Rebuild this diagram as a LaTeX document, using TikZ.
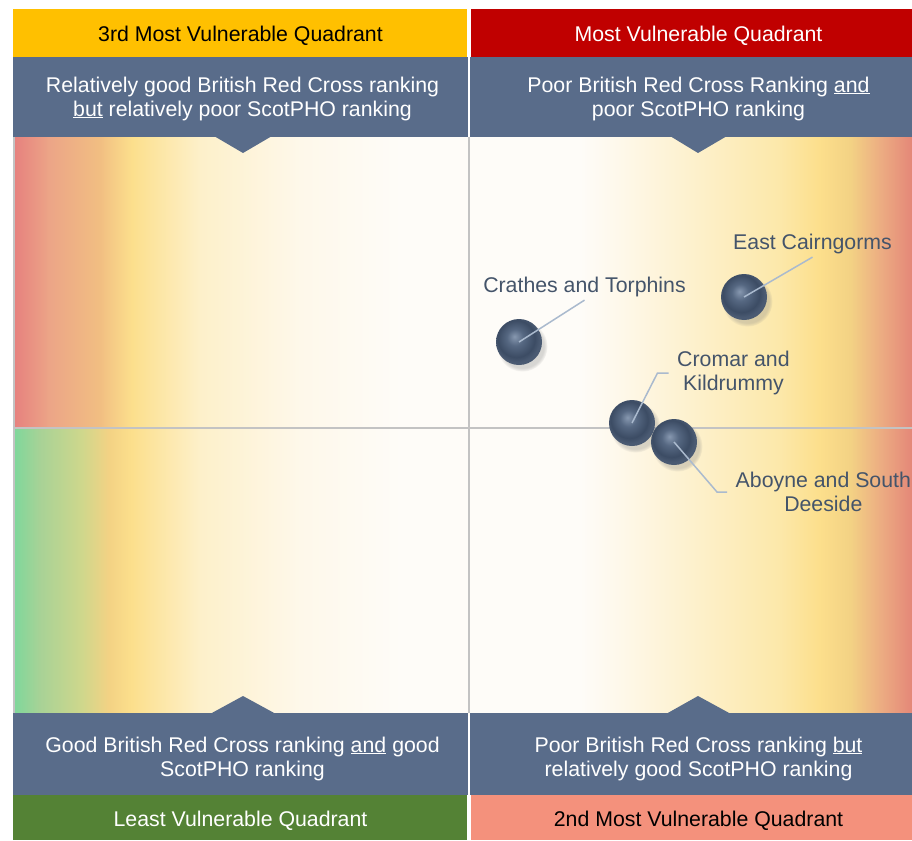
\documentclass[tikz,border=0pt]{standalone}
\usepackage{fontspec}
\setmainfont{Liberation Sans}
\usetikzlibrary{shadows}

\definecolor{qyellow}{RGB}{255,192,0}
\definecolor{qred}{RGB}{192,0,0}
\definecolor{qgreen}{RGB}{84,130,53}
\definecolor{qsalmon}{RGB}{244,145,124}
\definecolor{slate}{RGB}{89,108,138}
\definecolor{labeltext}{RGB}{68,84,106}
\definecolor{leaderline}{RGB}{170,186,206}
\definecolor{gridline}{RGB}{195,195,195}
% background colours
\definecolor{bgred}{RGB}{230,128,126}
\definecolor{bgsalmon}{RGB}{236,165,135}
\definecolor{bgorange}{RGB}{241,190,130}
\definecolor{bggreen}{RGB}{125,215,155}
\definecolor{bgsage}{RGB}{168,210,150}
\definecolor{bglime}{RGB}{206,215,140}
\definecolor{bgamber}{RGB}{243,210,132}
\definecolor{bgyellow}{RGB}{252,223,140}
\definecolor{bgcream}{RGB}{253,240,202}
\definecolor{bgbutter}{RGB}{252,232,170}
\definecolor{bgpale}{RGB}{254,248,234}
\definecolor{bgwhite}{RGB}{254,252,248}
\definecolor{bgrust}{RGB}{236,172,130}
\definecolor{bgcoral}{RGB}{228,135,120}
% ball colours
\definecolor{ballhi}{RGB}{135,152,176}
\definecolor{ballmid}{RGB}{86,104,130}
\definecolor{balldark}{RGB}{60,76,100}
\definecolor{balledge}{RGB}{74,90,114}

\pgfdeclarehorizontalshading{shadeTL}{100bp}{color(0bp)=(bgred); color(25bp)=(bgred);
  color(29bp)=(bgsalmon); color(34.5bp)=(bgorange); color(38bp)=(bgyellow);
  color(45.5bp)=(bgcream); color(56.5bp)=(bgpale); color(67.5bp)=(bgwhite); color(100bp)=(bgwhite)}
\pgfdeclarehorizontalshading{shadeBL}{100bp}{color(0bp)=(bggreen); color(25bp)=(bggreen);
  color(28bp)=(bgsage); color(32.5bp)=(bglime); color(35.5bp)=(bgamber); color(38bp)=(bgyellow);
  color(45.5bp)=(bgcream); color(56.5bp)=(bgpale); color(67.5bp)=(bgwhite); color(100bp)=(bgwhite)}
\pgfdeclarehorizontalshading{shadeR}{100bp}{color(0bp)=(bgwhite); color(37.5bp)=(bgwhite);
  color(42bp)=(bgpale); color(51bp)=(bgcream); color(60bp)=(bgbutter);
  color(64.5bp)=(bgyellow); color(68bp)=(bgamber); color(71.5bp)=(bgrust);
  color(75bp)=(bgcoral); color(100bp)=(bgcoral)}
\pgfdeclareradialshading{sphere}{\pgfpoint{-5bp}{6bp}}{color(0bp)=(ballhi);
  color(9bp)=(ballmid); color(20bp)=(balldark); color(25bp)=(balledge); color(50bp)=(balledge)}

\tikzset{
  hdrtext/.style={inner sep=0pt, font=\fontsize{21.3}{24}\selectfont},
  desctext/.style={text=white, align=center, inner sep=0pt, font=\fontsize{21.3}{24}\selectfont},
  ball/.style={circle, minimum size=46pt, inner sep=0pt, shading=sphere,
    circular drop shadow={shadow xshift=3pt, shadow yshift=-4pt, opacity=0.3}},
  area/.style={text=labeltext, align=center, inner sep=3pt, font=\fontsize{21.3}{24}\selectfont},
  leader/.style={leaderline, line width=1.5pt},
  grid/.style={gridline, line width=2pt}
}

\begin{document}
\begin{tikzpicture}[x=1pt,y=-1pt]
\clip (0,0) rectangle (912,840);
\fill[white] (0,0) rectangle (912,840);

% quadrant backgrounds
\shade[shading=shadeTL] (13,137) rectangle (469,428);
\shade[shading=shadeBL] (13,428) rectangle (469,715);
\shade[shading=shadeR] (469,137) rectangle (912,715);
\draw[grid] (14,137) -- (14,715);
\draw[grid] (13,428) -- (912,428);
\draw[grid] (469,137) -- (469,713);

% headers
\fill[qyellow] (13,9) rectangle (467,57);
\fill[qred] (471,9) rectangle (912,57);
\fill[qgreen] (13,795) rectangle (467,840);
\fill[qsalmon] (471,795) rectangle (912,840);
\node[hdrtext, text=black] (q3hdr) at (240.5,35.5) {3rd Most Vulnerable Quadrant};
\node[hdrtext, text=white] (q1hdr) at (698.5,35.5) {Most Vulnerable Quadrant};
\node[hdrtext, text=white] (q4hdr) at (240.5,821) {Least Vulnerable Quadrant};
\node[hdrtext, text=black] (q2hdr) at (698.5,821) {2nd Most Vulnerable Quadrant};

% descriptions
\fill[slate] (13,57) rectangle (468,137);
\fill[slate] (470,57) rectangle (912,137);
\fill[slate] (13,713) rectangle (468,795);
\fill[slate] (470,713) rectangle (912,795);
\fill[slate] (214,136) -- (243,153) -- (272,136) -- cycle;
\fill[slate] (670,136) -- (698,153) -- (727,136) -- cycle;
\fill[slate] (210,714) -- (243,696) -- (276,714) -- cycle;
\fill[slate] (666,714) -- (698,696) -- (731,714) -- cycle;
\node[desctext] (q3desc) at (242.5,98.5) {Relatively good British Red Cross ranking\\\underline{but} relatively poor ScotPHO ranking};
\node[desctext] (q1desc) at (698.5,98.5) {Poor British Red Cross Ranking \underline{and}\\poor ScotPHO ranking};
\node[desctext] (q4desc) at (242.5,758.5) {Good British Red Cross ranking \underline{and} good\\ScotPHO ranking};
\node[desctext] (q2desc) at (698.5,758.5) {Poor British Red Cross ranking \underline{but}\\relatively good ScotPHO ranking};

% areas
\node[area] (crathesl) at (584.5,287) {Crathes and Torphins};
\node[area] (eastcl) at (812.5,244) {East Cairngorms};
\node[area, inner xsep=8.5pt, anchor=west] (cromarl) at (668.5,373) {Cromar and\\Kildrummy};
\node[area, inner xsep=8.5pt, anchor=west] (aboynel) at (727,492) {Aboyne and South\\Deeside};

\node[ball] (crathes) at (519,342) {};
\draw[leader] (crathes.center) -- (crathesl.south);
\node[ball] (eastc) at (744,297) {};
\draw[leader] (eastc.center) -- (eastcl.south);
\node[ball] (cromar) at (632,423) {};
\draw[leader] (cromar.center) -- ([xshift=-11pt]cromarl.west) -- (cromarl.west);
\node[ball] (aboyne) at (674,442) {};
\draw[leader] (aboyne.center) -- ([xshift=-10pt]aboynel.west) -- (aboynel.west);
\end{tikzpicture}
\end{document}
